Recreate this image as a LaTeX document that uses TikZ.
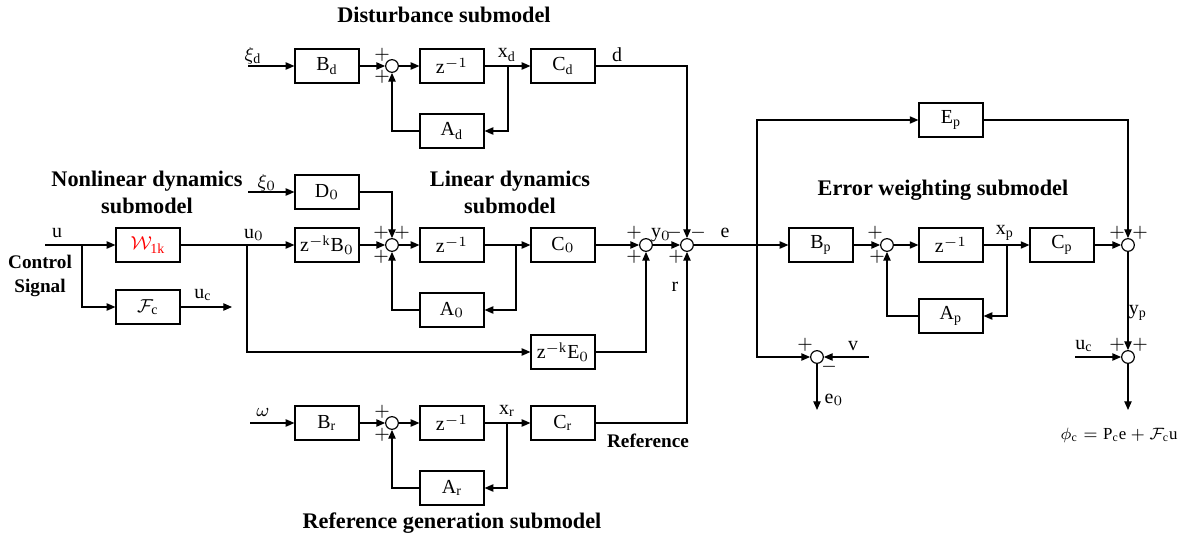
\documentclass[tikz,border=0pt]{standalone}
\usepackage{amsmath,amssymb}
\usepackage{fontspec}
\setmainfont{Liberation Serif}
\usetikzlibrary{arrows.meta,positioning,calc}

\begin{document}
\begin{tikzpicture}[x=0.015cm, y=-0.015cm, line width=0.5pt, every node/.style={font=\fontsize{8.5}{10}\selectfont}, blk/.style={draw, minimum width=0.96cm, minimum height=0.51cm, inner sep=1pt}, sumc/.style={draw, circle, minimum size=0.19cm, inner sep=0pt}, arr/.style={-{Triangle[length=1.3mm,width=1.1mm]}}, sig/.style={inner sep=1pt}, sgn/.style={inner sep=0pt, font=\fontsize{8}{8}\selectfont}, ttl/.style={align=center, font=\fontsize{9.5}{11.5}\selectfont\bfseries}, subttl/.style={align=center, font=\fontsize{8.2}{10.5}\selectfont\bfseries}]
\useasboundingbox (0,0) rectangle (1181,539);
\node[ttl] (tdist) at (444,15) {Disturbance submodel};
\node[ttl] (tnl) at (147,192) {Nonlinear dynamics\\submodel};
\node[ttl] (tlin) at (510,192) {Linear dynamics\\submodel};
\node[ttl] (tref) at (452,523) {Reference generation submodel};
\node[ttl] (terr) at (943,190) {Error weighting submodel};
\node[subttl] (tctl) at (40,276) {Control\\Signal};
\node[blk] (Bd) at (327,66) {$\mathrm{B}_\mathrm{d}$};
\node[sumc] (sd) at (392,66) {};
\node[blk] (zd) at (452,66) {$\mathrm{z}^{-1}$};
\node[blk] (Cd) at (563,66) {$\mathrm{C}_\mathrm{d}$};
\node[blk] (Ad) at (452,131) {$\mathrm{A}_\mathrm{d}$};
\node[blk] (D0) at (327,192) {$\mathrm{D}_0$};
\node[blk,text=red] (W1k) at (148,245) {$\mathcal{W}_{\mathrm{1k}}$};
\node[blk] (Fc) at (148,307) {$\mathcal{F}_\mathrm{c}$};
\node[blk] (zB0) at (327,245) {$\mathrm{z}^{-\mathrm{k}}\mathrm{B}_0$};
\node[sumc] (s0) at (392,245) {};
\node[blk] (z0) at (452,245) {$\mathrm{z}^{-1}$};
\node[blk] (C0) at (563,245) {$\mathrm{C}_0$};
\node[blk] (A0) at (452,310) {$\mathrm{A}_0$};
\node[sumc] (sy) at (646,245) {};
\node[sumc] (se) at (687,245) {};
\node[blk] (zE0) at (563,352) {$\mathrm{z}^{-\mathrm{k}}\mathrm{E}_0$};
\node[blk] (Br) at (327,423) {$\mathrm{B}_\mathrm{r}$};
\node[sumc] (sr) at (392,423) {};
\node[blk] (zr) at (452,423) {$\mathrm{z}^{-1}$};
\node[blk] (Cr) at (563,423) {$\mathrm{C}_\mathrm{r}$};
\node[blk] (Ar) at (452,488) {$\mathrm{A}_\mathrm{r}$};
\node[blk] (Ep) at (951,120) {$\mathrm{E}_\mathrm{p}$};
\node[blk] (Bp) at (821,245) {$\mathrm{B}_\mathrm{p}$};
\node[sumc] (sp) at (887,245) {};
\node[blk] (zp) at (951,245) {$\mathrm{z}^{-1}$};
\node[blk] (Cp) at (1062,245) {$\mathrm{C}_\mathrm{p}$};
\node[blk] (Ap) at (951,316) {$\mathrm{A}_\mathrm{p}$};
\node[sumc] (so) at (1128,245) {};
\node[sumc] (se0) at (817,357) {};
\node[sumc] (sf) at (1128,357) {};
\coordinate (xid) at (248,66);
\coordinate (bd) at (508,66);
\coordinate (xi0) at (248,192);
\coordinate (uin) at (45,245);
\coordinate (bu) at (82,245);
\coordinate (ucout) at (232,307);
\coordinate (bu0) at (247,245);
\coordinate (b0) at (516,245);
\coordinate (win) at (250,423);
\coordinate (br) at (507,423);
\coordinate (be) at (757,245);
\coordinate (bp) at (1007,245);
\coordinate (vin) at (869,357);
\coordinate (e0out) at (817,410);
\coordinate (ucin) at (1075,357);
\coordinate (phiout) at (1128,410);
\draw[arr] (xid) -- (Bd);
\draw[arr] (Bd) -- (sd);
\draw[arr] (sd) -- (zd);
\draw[arr] (zd) -- (Cd);
\draw[arr] (bd) |- (Ad);
\draw[arr] (Ad) -| (sd);
\draw[arr] (Cd) -| (se);
\draw[arr] (xi0) -- (D0);
\draw[arr] (D0) -| (s0);
\draw[arr] (uin) -- (W1k);
\draw[arr] (bu) |- (Fc);
\draw[arr] (Fc) -- (ucout);
\draw[arr] (W1k) -- (zB0);
\draw[arr] (bu0) |- (zE0);
\draw[arr] (zB0) -- (s0);
\draw[arr] (s0) -- (z0);
\draw[arr] (z0) -- (C0);
\draw[arr] (b0) |- (A0);
\draw[arr] (A0) -| (s0);
\draw[arr] (C0) -- (sy);
\draw[arr] (zE0) -| (sy);
\draw[arr] (sy) -- (se);
\draw[arr] (win) -- (Br);
\draw[arr] (Br) -- (sr);
\draw[arr] (sr) -- (zr);
\draw[arr] (zr) -- (Cr);
\draw[arr] (br) |- (Ar);
\draw[arr] (Ar) -| (sr);
\draw[arr] (Cr) -| (se);
\draw[arr] (se) -- (Bp);
\draw[arr] (be) |- (Ep);
\draw[arr] (be) |- (se0);
\draw[arr] (vin) -- (se0);
\draw[arr] (se0) -- (e0out);
\draw[arr] (Bp) -- (sp);
\draw[arr] (sp) -- (zp);
\draw[arr] (zp) -- (Cp);
\draw[arr] (bp) |- (Ap);
\draw[arr] (Ap) -| (sp);
\draw[arr] (Cp) -- (so);
\draw[arr] (Ep) -| (so);
\draw[arr] (so) -- (sf);
\draw[arr] (ucin) -- (sf);
\draw[arr] (sf) -- (phiout);
\node[sig] (lxid) at (253,56) {$\xi_\mathrm{d}$};
\node[sig] (lxd) at (507,55) {$\mathrm{x}_\mathrm{d}$};
\node[sig] (ld) at (617,55) {d};
\node[sig] (lxi0) at (267,183) {$\xi_0$};
\node[sig] (lu) at (57,233) {u};
\node[sig] (luc) at (203,295) {$\mathrm{u}_\mathrm{c}$};
\node[sig] (lu0) at (254,235) {$\mathrm{u}_0$};
\node[sig] (ly0) at (661,235) {$\mathrm{y}_0$};
\node[sig] (le) at (725,233) {e};
\node[sig] (lr) at (675,287) {r};
\node[sig] (lw) at (263,412) {$\omega$};
\node[sig] (lxr) at (507,411) {$\mathrm{x}_\mathrm{r}$};
\node[subttl] (lref) at (648,441) {Reference};
\node[sig] (lxp) at (1005,233) {$\mathrm{x}_\mathrm{p}$};
\node[sig] (lyp) at (1138,313) {$\mathrm{y}_\mathrm{p}$};
\node[sig] (lv) at (853,346) {v};
\node[sig] (le0) at (834,400) {$\mathrm{e}_0$};
\node[sig] (lucb) at (1084,346) {$\mathrm{u}_\mathrm{c}$};
\node[sig,font=\fontsize{7.2}{9}\selectfont] (lphi) at (1119,435) {$\phi_\mathrm{c} = \mathrm{P}_\mathrm{c}\mathrm{e} + \mathcal{F}_\mathrm{c}\mathrm{u}$};
\node[sgn] (pd1) at (382,55) {$+$};
\node[sgn] (pd2) at (382,77) {$+$};
\node[sgn] (p01) at (381,233) {$+$};
\node[sgn] (p02) at (402,233) {$+$};
\node[sgn] (p03) at (381,257) {$+$};
\node[sgn] (py1) at (634,233) {$+$};
\node[sgn] (py2) at (634,257) {$+$};
\node[sgn] (pe1) at (674,233) {$-$};
\node[sgn] (pe2) at (698,233) {$-$};
\node[sgn] (pe3) at (676,257) {$+$};
\node[sgn] (pr1) at (382,412) {$+$};
\node[sgn] (pr2) at (382,435) {$+$};
\node[sgn] (pp1) at (875,233) {$+$};
\node[sgn] (pp2) at (877,257) {$+$};
\node[sgn] (po1) at (1117,233) {$+$};
\node[sgn] (po2) at (1140,233) {$+$};
\node[sgn] (pv1) at (805,345) {$+$};
\node[sgn] (pv2) at (829,367) {$-$};
\node[sgn] (pf1) at (1117,345) {$+$};
\node[sgn] (pf2) at (1140,345) {$+$};
\end{tikzpicture}
\end{document}
